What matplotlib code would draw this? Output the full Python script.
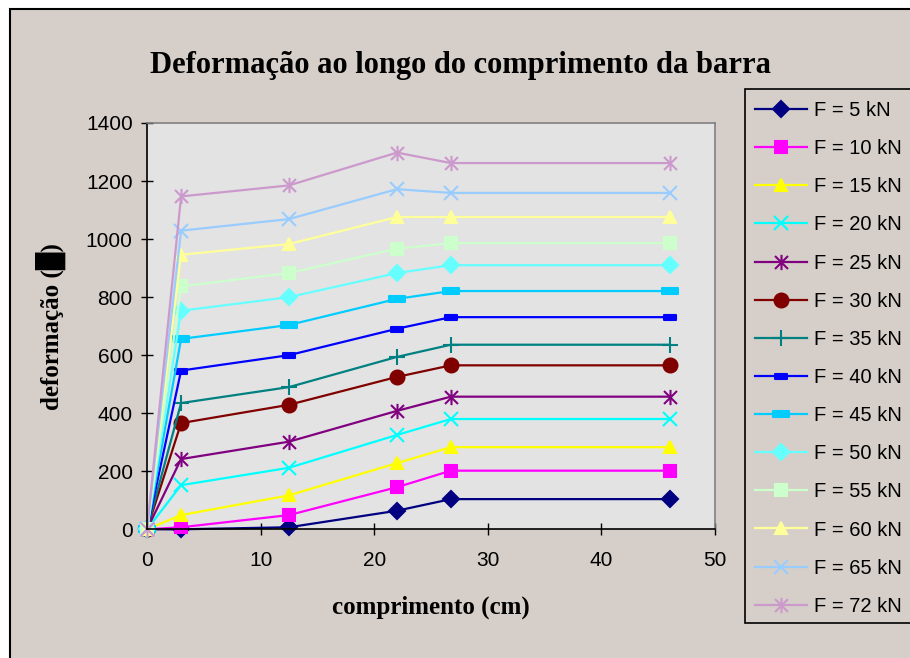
import matplotlib
matplotlib.use("Agg")
import matplotlib.pyplot as plt
from matplotlib.path import Path
from matplotlib.patches import Rectangle

# ---- data ----
x_cm = [0, 3, 12.5, 22, 26.75, 46]
forces = ["5", "10", "15", "20", "25", "30", "35", "40", "45", "50", "55", "60", "65", "72"]
f5 = [0, 0, 7, 64, 104, 104]
f10 = [0, 7, 49, 145, 202, 202]
f15 = [0, 49, 117, 228, 283, 283]
f20 = [0, 152, 212, 325, 380, 380]
f25 = [0, 242, 302, 408, 457, 457]
f30 = [0, 366, 429, 525, 565, 565]
f35 = [0, 435, 490, 594, 636, 636]
f40 = [0, 547, 600, 691, 731, 731]
f45 = [0, 656, 704, 794, 821, 821]
f50 = [0, 753, 800, 883, 910, 910]
f55 = [0, 837, 883, 967, 986, 986]
f60 = [0, 946, 983, 1076, 1076, 1076]
f65 = [0, 1029, 1069, 1172, 1159, 1159]
f72 = [0, 1147, 1185, 1298, 1262, 1262]
series = [f5, f10, f15, f20, f25, f30, f35, f40, f45, f50, f55, f60, f65, f72]
x_ticks = [0, 10, 20, 30, 40, 50]
y_ticks = [0, 200, 400, 600, 800, 1000, 1200, 1400]

# ---- styles ----
colors = ["#000080", "#FF00FF", "#FFFF00", "#00FFFF", "#800080", "#800000", "#008080",
          "#0000FF", "#00CCFF", "#66FFFF", "#CCFFCC", "#FFFF99", "#99CCFF", "#CC99CC"]

star = Path([(0, -1), (0, 1), (-0.85, -0.85), (0.85, 0.85), (-0.85, 0.85), (0.85, -0.85)],
            [Path.MOVETO, Path.LINETO, Path.MOVETO, Path.LINETO, Path.MOVETO, Path.LINETO])
dash = Path([(-1, -0.45), (1, -0.45), (1, 0.45), (-1, 0.45), (-1, -0.45)],
            [Path.MOVETO, Path.LINETO, Path.LINETO, Path.LINETO, Path.CLOSEPOLY])

markers = ["D", "s", "^", "x", star, "o", "+", dash, dash, "D", "s", "^", "x", star]
msizes = [8, 9, 9, 10, 11, 10, 11, 8, 11, 8, 9, 9, 10, 11]

BG = "#D6CFC9"
W, H = 910, 658
fig = plt.figure(figsize=(W / 100, H / 100), dpi=100, facecolor="white")

# chart area background with border
fig.patches.append(Rectangle((9.5 / W, -0.05), 1.1, (H - 9.5) / H + 0.05, transform=fig.transFigure,
                             facecolor=BG, edgecolor="black", linewidth=1.5, zorder=-10))

ax = fig.add_axes([147 / W, (H - 529.3) / H, (715 - 147) / W, (529.3 - 123) / H])
ax.set_facecolor("#E3E3E3")

handles = []
for vals, c, m, ms, f in zip(series, colors, markers, msizes, forces):
    ln, = ax.plot(x_cm, vals, color=c, linewidth=1.6, marker=m, markersize=ms,
                  markerfacecolor=c, markeredgecolor=c, markeredgewidth=1.5,
                  clip_on=False, label=f"F = {f} kN")
    handles.append(ln)

ax.set_xlim(0, 50)
ax.set_ylim(0, 1400)
ax.set_xticks(x_ticks)
ax.set_yticks(y_ticks)
ax.tick_params(direction="inout", length=8.6, width=1, labelsize=15, colors="black")
ax.tick_params(axis="y", pad=6)
ax.tick_params(axis="x", pad=11.5)
for lab in ax.get_xticklabels() + ax.get_yticklabels():
    lab.set_family("Liberation Sans")
ax.spines["left"].set_color("black")
ax.spines["bottom"].set_color("black")
ax.spines["top"].set_color("#808080")
ax.spines["right"].set_color("#808080")
for s in ax.spines.values():
    s.set_linewidth(1.2)

ax.set_xlabel("comprimento (cm)", family="Liberation Serif", fontweight="bold", fontsize=18, labelpad=18)
ax.set_ylabel("deformação (█)", family=["Liberation Serif", "DejaVu Sans"], fontweight="bold",
              fontsize=18, labelpad=14)

fig.text(460 / W, 1 - 65 / H, "Deformação ao longo do comprimento da barra",
         family="Liberation Serif", fontweight="bold", fontsize=22, ha="center", va="center")

# legend box
fig.patches.append(Rectangle((745 / W, (H - 623) / H), 1.0, (623 - 89) / H, transform=fig.transFigure,
                             facecolor=BG, edgecolor="black", linewidth=1.2, zorder=-5))
leg = fig.legend(handles=handles, loc="upper left", bbox_to_anchor=(747 / W, 1 - 93 / H),
                 frameon=False, prop={"family": "Liberation Sans", "size": 14.5},
                 handlelength=2.6, handletextpad=0.35, labelspacing=0.95, borderaxespad=0)

fig.savefig("out.png", dpi=100, facecolor=fig.get_facecolor())
